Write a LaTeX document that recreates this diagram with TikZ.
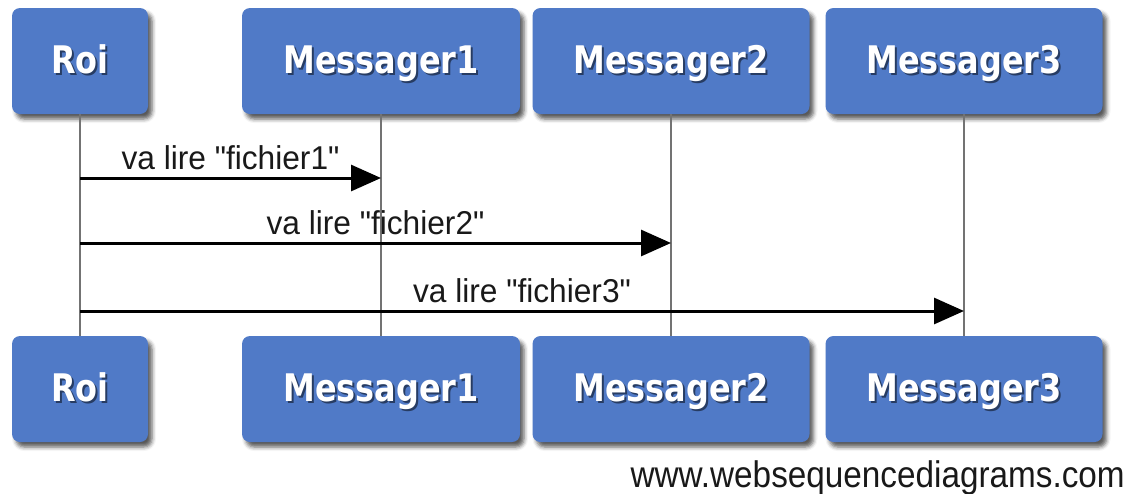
\documentclass[tikz,border=0pt]{standalone}
\usepackage{fontspec}
\usetikzlibrary{arrows.meta,shadows.blur,calc}
\newfontfamily\actorfont[FakeStretch=0.84]{DejaVu Sans}
\newfontfamily\lblfont[FakeStretch=0.96]{Liberation Sans}
\newfontfamily\wmfont[FakeStretch=0.9]{Liberation Sans}
\definecolor{boxblue}{RGB}{80,122,199}
\definecolor{lifegray}{RGB}{115,115,115}
\tikzset{
  actor/.style={draw=none, fill=boxblue, rounded corners=8pt, minimum width=#1,
    minimum height=106pt, inner sep=0pt,
    blur shadow={shadow xshift=4pt, shadow yshift=-5pt, shadow blur radius=4pt, shadow opacity=65}},
  actortext/.style={text=white, font=\actorfont\bfseries\fontsize{38pt}{38pt}\selectfont, inner sep=0pt, anchor=base},
  tshadow/.style={text=black, opacity=0.5, font=\actorfont\bfseries\fontsize{38pt}{38pt}\selectfont, inner sep=0pt, anchor=base},
  lifeline/.style={draw=lifegray, line width=2.5pt},
  msg/.style={draw=black, line width=3pt, -{Triangle[length=30pt,width=26pt]}},
  msglabel/.style={font=\lblfont\fontsize{33pt}{33pt}\selectfont, anchor=base, inner sep=0pt, text=black!90},
  watermark/.style={font=\wmfont\fontsize{37pt}{37pt}\selectfont, anchor=base east, inner sep=0pt, text=black!90},
}
\newcommand\actorbox[5]{%
  \node[actor=#4] (#1) at (#2,#3) {};
  \node[tshadow] (#1s) at ([xshift=2pt,yshift=-14.5pt]#1.center) {#5};
  \node[actortext] (#1t) at ([yshift=-12.5pt]#1.center) {#5};
}
\begin{document}
\begin{tikzpicture}[x=1pt,y=-1pt]
\useasboundingbox (0,0) rectangle (1132,493);
% top actors
\actorbox{roiT}{80}{61}{136pt}{Roi}
\actorbox{m1T}{381}{61}{278pt}{Messager1}
\actorbox{m2T}{671}{61}{277pt}{Messager2}
\actorbox{m3T}{964}{61}{277pt}{Messager3}
% bottom actors
\actorbox{roiB}{80}{389}{136pt}{Roi}
\actorbox{m1B}{381}{389}{278pt}{Messager1}
\actorbox{m2B}{671}{389}{277pt}{Messager2}
\actorbox{m3B}{964}{389}{277pt}{Messager3}
% lifelines
\draw[lifeline] (roiT.south) -- (roiB.north);
\draw[lifeline] (m1T.south) -- (m1B.north);
\draw[lifeline] (m2T.south) -- (m2B.north);
\draw[lifeline] (m3T.south) -- (m3B.north);
% message rows
\coordinate (r1) at (0,178);
\coordinate (r2) at (0,243);
\coordinate (r3) at (0,311);
\draw[msg] (roiT.south |- r1) -- node[msglabel, midway, yshift=9pt] (l1) {va lire "fichier1"} (m1T.south |- r1);
\draw[msg] (roiT.south |- r2) -- node[msglabel, midway, yshift=9pt] (l2) {va lire "fichier2"} (m2T.south |- r2);
\draw[msg] (roiT.south |- r3) -- node[msglabel, midway, yshift=9pt] (l3) {va lire "fichier3"} (m3T.south |- r3);
% watermark
\node[watermark] (wm) at (1125,487) {www.websequencediagrams.com};
\end{tikzpicture}
\end{document}
